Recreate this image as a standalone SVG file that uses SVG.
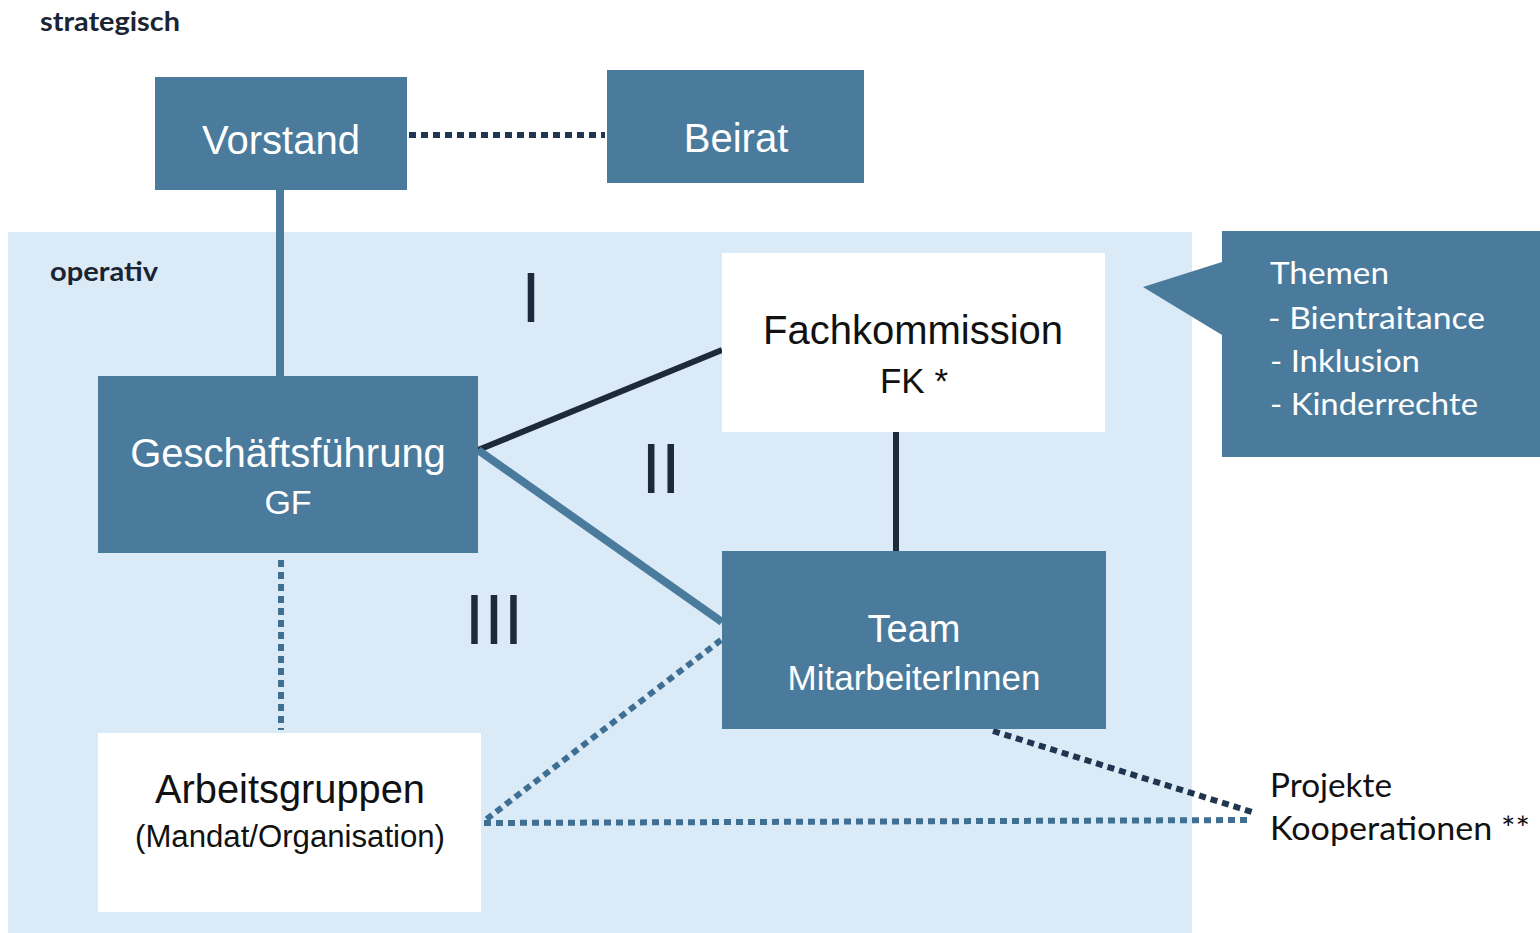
<svg xmlns="http://www.w3.org/2000/svg" width="1540" height="933" viewBox="0 0 1540 933">
<style>
.box{fill:#4b7b9c}
.wbox{fill:#ffffff}
.wt{fill:#ffffff;font-family:"Liberation Sans",Arial,sans-serif;text-anchor:middle}
.bt{fill:#111111;font-family:"Liberation Sans",Arial,sans-serif;text-anchor:middle}
.cal{font-family:Lato,"Open Sans",sans-serif}
.num{fill:#1c2a3c;font-family:"Liberation Sans",Arial,sans-serif;font-size:70px;text-anchor:middle}
.solidB{stroke:#4b7b9c;stroke-width:8;fill:none}
.solidN{stroke:#1c2a3c;stroke-width:6;fill:none}
.dotB{stroke:#3f6f92;stroke-width:6;stroke-dasharray:7 5;fill:none}
.dotN{stroke:#203550;stroke-width:6;stroke-dasharray:7 5;fill:none}
</style>
<rect width="1540" height="933" fill="#ffffff"/>
<rect id="operativ-panel" x="8" y="232" width="1184" height="701" fill="#dbeaf7"/>
<text x="40" y="31" class="cal" font-size="26" font-weight="bold" fill="#1a2433" textLength="140" lengthAdjust="spacingAndGlyphs">strategisch</text>
<text x="50" y="281" class="cal" font-size="26" font-weight="bold" fill="#1a2433" textLength="108" lengthAdjust="spacingAndGlyphs">operativ</text>

<g id="connectors">
<line class="dotN" x1="409" y1="135" x2="605" y2="135"/>
<line class="solidB" x1="280" y1="190" x2="280" y2="377"/>
<line class="solidN" x1="478" y1="450" x2="722" y2="350"/>
<line class="solidB" x1="478" y1="450" x2="722" y2="622"/>
<line class="solidN" x1="896" y1="432" x2="896" y2="551"/>
<line class="dotB" x1="281" y1="560" x2="281" y2="730"/>
<line class="dotB" x1="721" y1="640" x2="484" y2="821"/>
<line class="dotB" x1="484" y1="823" x2="1252" y2="820"/>
<line class="dotN" x1="993" y1="731" x2="1252" y2="812"/>
</g>

<g id="vorstand">
<rect class="box" x="155" y="77" width="252" height="113"/>
<text class="wt" x="281" y="154" font-size="40">Vorstand</text>
</g>
<g id="beirat">
<rect class="box" x="607" y="70" width="257" height="113"/>
<text class="wt" x="736" y="152" font-size="40">Beirat</text>
</g>
<g id="geschaeftsfuehrung">
<rect class="box" x="98" y="376" width="380" height="177"/>
<text class="wt" x="288" y="467" font-size="40">Geschäftsführung</text>
<text class="wt" x="288" y="514" font-size="34">GF</text>
</g>
<g id="fachkommission">
<rect class="wbox" x="722" y="253" width="383" height="179"/>
<text class="bt" x="913" y="344" font-size="40">Fachkommission</text>
<text class="bt" x="914" y="393" font-size="35">FK *</text>
</g>
<g id="team">
<rect class="box" x="722" y="551" width="384" height="178"/>
<text class="wt" x="914" y="642" font-size="38">Team</text>
<text class="wt" x="914" y="690" font-size="35">MitarbeiterInnen</text>
</g>
<g id="arbeitsgruppen">
<rect class="wbox" x="98" y="733" width="383" height="179"/>
<text class="bt" x="290" y="803" font-size="40" textLength="270" lengthAdjust="spacingAndGlyphs">Arbeitsgruppen</text>
<text class="bt" x="290" y="847" font-size="31" textLength="310" lengthAdjust="spacingAndGlyphs">(Mandat/Organisation)</text>
</g>
<g id="themen">
<path class="box" d="M1222 231 H1540 V457 H1222 V335 L1143 287 L1222 262 Z"/>
<text class="cal" fill="#ffffff" font-size="31" x="1270" y="284" textLength="119" lengthAdjust="spacingAndGlyphs">Themen</text>
<text class="cal" fill="#ffffff" font-size="31" x="1268" y="329" textLength="217" lengthAdjust="spacingAndGlyphs">- Bientraitance</text>
<text class="cal" fill="#ffffff" font-size="31" x="1270" y="372" textLength="150" lengthAdjust="spacingAndGlyphs">- Inklusion</text>
<text class="cal" fill="#ffffff" font-size="31" x="1270" y="415" textLength="208" lengthAdjust="spacingAndGlyphs">- Kinderrechte</text>
</g>
<g id="projekte">
<text class="cal" fill="#111111" font-size="33" x="1270" y="797" textLength="122" lengthAdjust="spacingAndGlyphs">Projekte</text>
<text class="cal" fill="#111111" font-size="33" x="1270" y="840" textLength="260" lengthAdjust="spacingAndGlyphs">Kooperationen **</text>
</g>
<g id="numerals">
<text class="num" x="531" y="322">I</text>
<text class="num" x="661" y="493">II</text>
<text class="num" x="494" y="644">III</text>
</g>
</svg>
